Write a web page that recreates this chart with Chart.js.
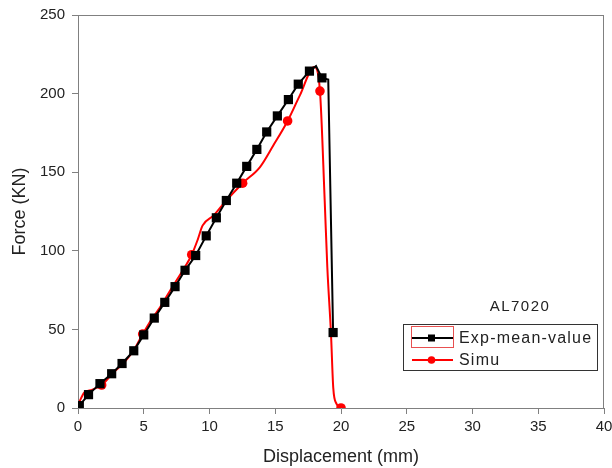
<!DOCTYPE html>
<html>
<head>
<meta charset="utf-8">
<script src="https://cdn.jsdelivr.net/npm/chart.js@4.4.0/dist/chart.umd.min.js"></script>
<style>
  html, body { margin: 0; padding: 0; background: #fff; }
  #wrap { width: 612px; height: 468px; position: relative; }
</style>
</head>
<body>
<div id="wrap"><canvas id="forceChart" width="612" height="468"></canvas></div>
<script>
// Exp-mean-value (black squares)
const expX = [0.1, 0.8, 1.67, 2.56, 3.35, 4.24, 5.0, 5.8, 6.6, 7.38, 8.14, 8.95, 9.75, 10.52, 11.28, 12.07, 12.83, 13.6, 14.35, 15.16, 16.0, 16.75, 17.6, 18.1, 18.55, 19.03, 19.4];
const expY = [1.5, 8.5, 15.5, 21.8, 28.3, 36.4, 46.5, 57.2, 67.2, 77.2, 87.6, 97, 109.5, 121, 132, 143, 153.7, 164.5, 175.6, 185.8, 196.2, 206, 214.3, 217.5, 210, 209, 48];
const expNoMarker = [23, 25];

// Simu (red circles)
const simuX = [0, 0.5, 1.04, 1.8, 2.68, 3.57, 4.33, 4.92, 5.6, 6.24, 7.0, 7.88, 8.65, 9.1, 9.47, 10.3, 11.17, 12.52, 13.84, 14.85, 15.94, 16.88, 17.97, 18.4, 18.76, 18.96, 19.24, 19.41, 19.67, 20.0];
const simuY = [2, 10, 11.5, 14.6, 22.5, 29.5, 38, 47, 56.5, 64, 74.6, 86.3, 97.5, 107, 116, 122.4, 131, 143, 153.3, 167, 182.6, 199, 217, 201.6, 132, 89.5, 47, 13, 2.5, 0];
const simuMarkers = [3, 7, 12, 17, 20, 23, 29];

const xTicks = [0, 5, 10, 15, 20, 25, 30, 35, 40];
const yTicks = [0, 50, 100, 150, 200, 250];

const seriesNames = ['Exp-mean-value', 'Simu'];
const materialLabel = 'AL7020';

const FONT = 'Arial, "Liberation Sans", sans-serif';
const AXIS = '#808080';
const TEXT = '#222';

function toPoints(xs, ys) {
    return xs.map((x, i) => ({ x: x, y: ys[i] }));
}

// frame on top/right + boxed legend + label
const extrasPlugin = {
    id: 'extras',
    afterDraw(chart) {
        const ctx = chart.ctx;
        const a = chart.chartArea;
        ctx.save();
        ctx.strokeStyle = AXIS;
        ctx.lineWidth = 1;
        ctx.beginPath();
        ctx.moveTo(a.left, a.top + 0.5);
        ctx.lineTo(a.right, a.top + 0.5);
        ctx.moveTo(a.right - 0.5, a.top);
        ctx.lineTo(a.right - 0.5, a.bottom);
        ctx.stroke();

        // material label
        ctx.fillStyle = TEXT;
        ctx.font = '15px ' + FONT;
        ctx.letterSpacing = '1.5px';
        ctx.textAlign = 'center';
        ctx.textBaseline = 'middle';
        ctx.fillText(materialLabel, 520, 307);

        // legend box
        ctx.strokeStyle = '#333';
        ctx.strokeRect(403.5, 324.5, 194, 46);

        // selection highlight around first sample
        ctx.strokeStyle = '#e85050';
        ctx.strokeRect(411.5, 326.5, 42, 21);

        const rows = [338, 360];
        const ds = chart.data.datasets;
        ctx.font = '16px ' + FONT;
        ctx.letterSpacing = '1.2px';
        ctx.textAlign = 'left';
        rows.forEach((y, i) => {
            const d = ds[i];
            ctx.strokeStyle = d.borderColor;
            ctx.lineWidth = 2;
            ctx.beginPath();
            ctx.moveTo(412, y);
            ctx.lineTo(453, y);
            ctx.stroke();
            ctx.fillStyle = d.borderColor;
            if (i === 0) {
                ctx.fillRect(428, y - 3.5, 7, 7);
            } else {
                ctx.beginPath();
                ctx.arc(431.5, y, 3.8, 0, Math.PI * 2);
                ctx.fill();
            }
            ctx.fillStyle = TEXT;
            ctx.fillText(d.label, 459, y + 1);
        });
        ctx.restore();
    }
};

const ctx = document.getElementById('forceChart').getContext('2d');
new Chart(ctx, {
    type: 'scatter',
    data: {
        datasets: [{
            label: seriesNames[0],
            data: toPoints(expX, expY),
            showLine: true,
            borderColor: '#000000',
            backgroundColor: '#000000',
            borderWidth: 2,
            pointStyle: 'rect',
            pointRadius: c => expNoMarker.includes(c.dataIndex) ? 0 : 6.5,
            pointBorderWidth: 0,
            tension: 0
        }, {
            label: seriesNames[1],
            data: toPoints(simuX, simuY),
            showLine: true,
            borderColor: '#ff0000',
            backgroundColor: '#ff0000',
            borderWidth: 2,
            pointStyle: 'circle',
            pointRadius: c => simuMarkers.includes(c.dataIndex) ? 4.8 : 0,
            pointBorderWidth: 0,
            cubicInterpolationMode: 'monotone'
        }]
    },
    options: {
        responsive: false,
        animation: false,
        layout: { padding: { top: 15, right: 8, left: 0, bottom: 0 } },
        plugins: {
            legend: { display: false },
            tooltip: { enabled: false }
        },
        scales: {
            x: {
                type: 'linear',
                min: 0,
                max: 40,
                afterFit: s => { s.height = 60; s.paddingLeft = 0; s.paddingRight = 0; },
                afterBuildTicks: s => { s.ticks = xTicks.map(v => ({ value: v })); },
                ticks: { color: TEXT, padding: 4, font: { family: FONT, size: 15 } },
                grid: { drawOnChartArea: false, drawTicks: true, tickLength: 6, color: AXIS },
                border: { color: AXIS, width: 1 },
                title: {
                    display: true,
                    text: 'Displacement (mm)',
                    color: TEXT,
                    font: { family: FONT, size: 18 },
                    padding: { top: 0, bottom: 0 }
                }
            },
            y: {
                type: 'linear',
                min: 0,
                max: 250,
                afterFit: s => { s.width = 78; s.paddingTop = 0; s.paddingBottom = 0; },
                afterBuildTicks: s => { s.ticks = yTicks.map(v => ({ value: v })); },
                ticks: { color: TEXT, padding: 7, font: { family: FONT, size: 15 } },
                grid: { drawOnChartArea: false, drawTicks: true, tickLength: 6, color: AXIS },
                border: { color: AXIS, width: 1 },
                title: {
                    display: true,
                    text: 'Force (KN)',
                    color: TEXT,
                    font: { family: FONT, size: 18 },
                    padding: { top: 9, bottom: 0 }
                }
            }
        }
    },
    plugins: [extrasPlugin]
});
</script>
</body>
</html>
